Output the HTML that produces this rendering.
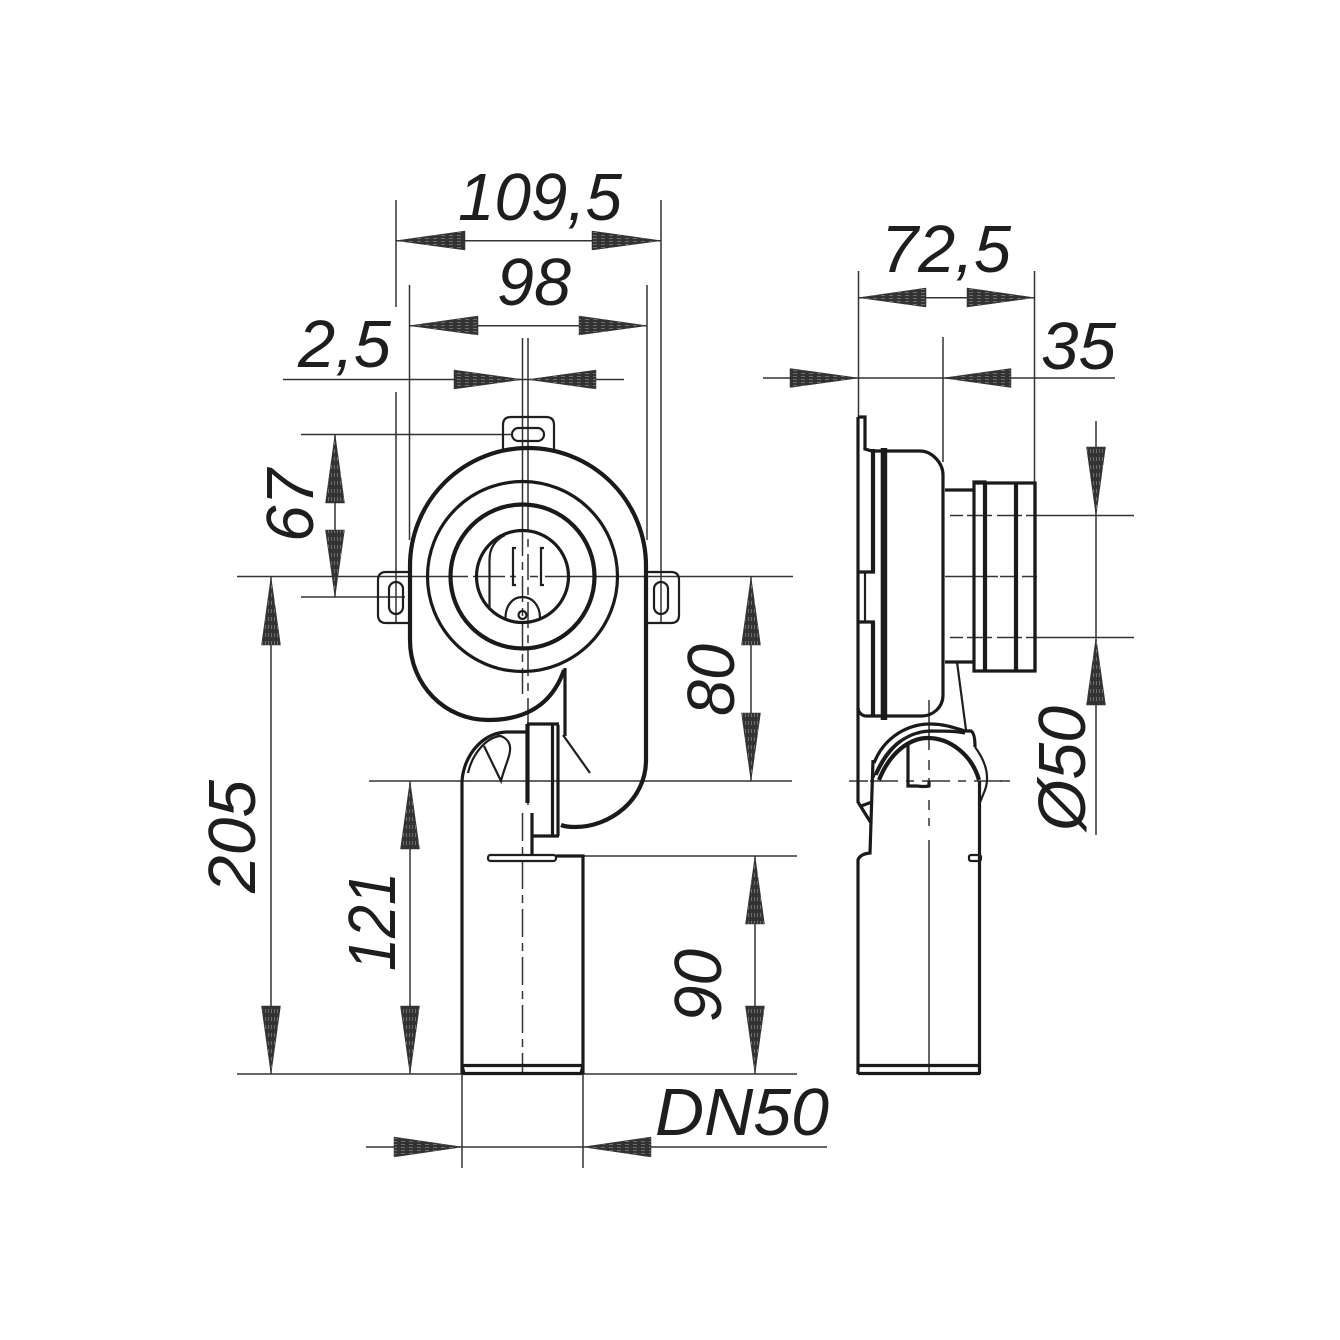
<!DOCTYPE html>
<html>
<head>
<meta charset="utf-8">
<style>
html,body{margin:0;padding:0;background:#fff}
svg{display:block}
text{font-family:"Liberation Sans",sans-serif;font-style:italic;font-size:67px;fill:#1e1e1e}
.t{fill:none;stroke:#333;stroke-width:1.5}
.m{fill:none;stroke:#1e1e1e;stroke-width:2.2}
.k{fill:none;stroke:#1a1a1a;stroke-width:3.2}
.x{fill:none;stroke:#1a1a1a;stroke-width:4.2}
.a polygon{stroke:#333;stroke-width:.5}
.h polygon{fill:url(#hh)}
.v polygon{fill:url(#vv)}
</style>
</head>
<body>
<svg width="1340" height="1340" viewBox="0 0 1340 1340" xmlns="http://www.w3.org/2000/svg">
<defs>
<pattern id="hh" width="8" height="3" patternUnits="userSpaceOnUse"><rect width="8" height="3" fill="#333"/><rect x="1" y="1" width="4" height=".7" fill="#888"/></pattern>
<pattern id="vv" width="3" height="8" patternUnits="userSpaceOnUse"><rect width="3" height="8" fill="#333"/><rect x="1" y="1" width=".7" height="4" fill="#888"/></pattern>
</defs>

<!-- thin dimension lines -->
<g class="t">
<path d="M396 200V307M396 392V622M661 200V622M409.500 285V540M647 285V540"/>
<path d="M396 240.700H661M409.500 325.700H647M283 379.500H624"/>
<path d="M522.500 338V530M528 338V506"/>
<path d="M858.500 271V418M1034.500 271V482M943 337V462"/>
<path d="M858.500 297.700H1034.500M763 378H1115"/>
<path d="M301 434.500H512M301 597H405"/>
<path d="M237 576.500H468M473 576.500H505M510 576.500H516M530 576.500H538M545 576.500H793"/>
<path d="M335 434V597M271 577V1074M410 781V1074M751 577V781M755 856V1074"/>
<path d="M237 1074H797M369 781H792M556 856H797"/>
<path d="M366 1147H827M462 1074V1168M583 1074V1168"/>
<path d="M1096 421V835"/>
<path d="M950 515.500H1134M950 637.500H1134" stroke-dasharray="13 4 25 5 25 4 200"/>
<path d="M945 576.500H998M1000 576.500H1014M1022 576.500H1037"/>
<path d="M849 781H868M1000 781H1010"/>
<path d="M870 781H1005" stroke-dasharray="28 8 8 8"/>
<path d="M929 700V750"/>
<path d="M929 760V850" stroke-dasharray="10 8 8 14"/>
<path d="M929 850V1074"/>
<path d="M522.500 530V696" stroke-dasharray="26 6 8 6"/>
<path d="M528 506V716" stroke-dasharray="26 7 8 7"/>
<path d="M528 716V805"/>
<path d="M522.500 813V1075" stroke-dasharray="28 6 8 6"/>
</g>

<!-- horizontal arrowheads -->
<g class="a h">
<polygon points="396,240.700 465,231 465,250"/>
<polygon points="661,240.700 592,231 592,250"/>
<polygon points="409.500,325.700 478,316 478,335"/>
<polygon points="647,325.700 579,316 579,335"/>
<polygon points="522.500,379.500 454,370 454,389"/>
<polygon points="528,379.500 596,370 596,389"/>
<polygon points="858.500,297.700 926,288 926,307"/>
<polygon points="1034.500,297.700 967,288 967,307"/>
<polygon points="858.500,378 790,368.500 790,387.500"/>
<polygon points="943,378 1011,368.500 1011,387.500"/>
<polygon points="462,1147 394,1137 394,1157"/>
<polygon points="583,1147 651,1137 651,1157"/>
</g>
<!-- vertical arrowheads -->
<g class="a v">
<polygon points="335,434 325.500,503 344.500,503"/>
<polygon points="335,597 325.500,530 344.500,530"/>
<polygon points="271,577 261.500,645 280.500,645"/>
<polygon points="271,1074 261.500,1006 280.500,1006"/>
<polygon points="410,781 400.500,849 419.500,849"/>
<polygon points="410,1074 400.500,1006 419.500,1006"/>
<polygon points="751,577 741.500,645 760.500,645"/>
<polygon points="751,781 741.500,713 760.500,713"/>
<polygon points="755,856 745.500,924 764.500,924"/>
<polygon points="755,1074 745.500,1006 764.500,1006"/>
<polygon points="1096,515.500 1086.500,447 1105.500,447"/>
<polygon points="1096,637.500 1086.500,705 1105.500,705"/>
</g>

<!-- front view -->
<g>
<path class="m" d="M503 449V425Q503 417 511 417H546Q554 417 554 425V449"/>
<rect class="m" x="512" y="428" width="32" height="13" rx="6.500"/>
<path class="m" d="M410 572H386Q378 572 378 580V615Q378 623 386 623H410"/>
<rect class="m" x="389" y="582" width="14" height="32" rx="7"/>
<path class="m" d="M647 572H671Q679 572 679 580V615Q679 623 671 623H647"/>
<rect class="m" x="654" y="582" width="14" height="32" rx="7"/>

<path class="x" d="M410 640V566A118 118 0 0 1 646 566V760C646 800 610 827 575 827Q566 827 561 825"/>
<path class="x" d="M410 640C410 685 445 720 488 720C525 720 552 705 564 670"/>
<circle class="k" cx="522.500" cy="576.500" r="95"/>
<circle class="x" cx="522.500" cy="576.500" r="72"/>
<circle class="k" cx="522.500" cy="576.500" r="46"/>
<path class="m" d="M489.500 608V560C489.500 548 495 540 505 535"/>
<path class="m" d="M516 548H513V585H516M544 548H541V585H544"/>
<path class="m" d="M505.500 618C505.500 605 513 597 522.500 597C532 597 540 605 540 618"/>
<circle class="m" cx="522.500" cy="615" r="4"/>

<path class="k" d="M565 668V736"/>
<path class="m" d="M563 735L590 773"/>
<path class="k" d="M462 786C461 760 480 733 506 732H527"/>
<path class="m" d="M468 773C472 755 485 738 500 736"/>
<path class="m" d="M484 746L501 781C505 765 511 755 510 747C509 738 500 735 497 736"/>
<path class="k" d="M462 786V1074"/>
<path class="x" d="M527.500 724V803"/>
<path class="k" d="M527 724H559M532 836H559M532 813V855"/>
<path class="k" d="M552.500 725V836M558 725V836"/>
<rect class="m" x="488" y="855" width="68" height="6" rx="2.500"/>
<path class="k" d="M556 856H583V1074"/>
<path class="k" d="M462 1065.500H583"/>
<path class="k" d="M462 1065.500L464 1073.500H581L583 1065.500"/>
</g>

<!-- side view -->
<g>
<path class="k" d="M858 417H865V449L872 451H882M858 417V802L871 823M873 760L870 853Q860 854 858 860V1074M861 806L872 802"/>
<path class="x" d="M873 449V572M873 622V716"/>
<rect x="880.700" y="448" width="6.500" height="272" fill="#1a1a1a"/>
<path class="k" d="M858 572H875M858 622H875"/>
<path class="m" d="M865 572V622"/>
<path class="k" d="M887 451H920C932 451 943 463 943 475V695C943 708 932 716 922 716H866C862 716 858 712 858 708"/>
<path class="k" d="M945 490H974M945 662H974"/>
<path class="k" d="M974 482V671H985V482ZM974 483H1035V671H974"/>
<path class="x" d="M985 482V671M1016 482V671"/>
<path class="k" d="M1035 482V671"/>
<path class="m" d="M957 662L966 730"/>

<path class="k" d="M874 763C885 735 910 724 930 724C945 724 955 728 965 731H971Q975 733 975 747"/>
<path class="m" d="M975 747Q992 770 985 790L979 805"/>
<path class="x" d="M879 780C890 752 910 738 928 738C950 738 972 755 979 780"/>
<path class="k" d="M876 775C888 748 905 732 930 731C945 731 955 731 965 733"/>
<path class="m" d="M872 781C884 750 900 736 920 733"/>
<path class="k" d="M908 743V786H917Q924 787 929 786V781"/>
<path class="k" d="M979.500 781V1074"/>
<rect class="m" x="969" y="855" width="12" height="6" rx="2"/>
<path class="k" d="M858 1065.500H980M858 1073.500H980"/>
</g>

<!-- labels -->
<text x="458" y="220" textLength="164" lengthAdjust="spacingAndGlyphs">109,5</text>
<text x="497" y="305" textLength="74" lengthAdjust="spacingAndGlyphs">98</text>
<text x="298" y="367" textLength="93" lengthAdjust="spacingAndGlyphs">2,5</text>
<text x="881" y="272" textLength="130" lengthAdjust="spacingAndGlyphs">72,5</text>
<text x="1041" y="369" textLength="75" lengthAdjust="spacingAndGlyphs">35</text>
<text x="655" y="1135" textLength="174" lengthAdjust="spacingAndGlyphs">DN50</text>
<text transform="translate(313 542) rotate(-90)" textLength="73" lengthAdjust="spacingAndGlyphs">67</text>
<text transform="translate(734 716) rotate(-90)" textLength="72" lengthAdjust="spacingAndGlyphs">80</text>
<text transform="translate(255 893) rotate(-90)" textLength="113" lengthAdjust="spacingAndGlyphs">205</text>
<text transform="translate(395 971) rotate(-90)" textLength="99" lengthAdjust="spacingAndGlyphs">121</text>
<text transform="translate(721 1022) rotate(-90)" textLength="73" lengthAdjust="spacingAndGlyphs">90</text>
<text transform="translate(1085 831) rotate(-90)" textLength="125" lengthAdjust="spacingAndGlyphs">Ø50</text>
</svg>
</body>
</html>
